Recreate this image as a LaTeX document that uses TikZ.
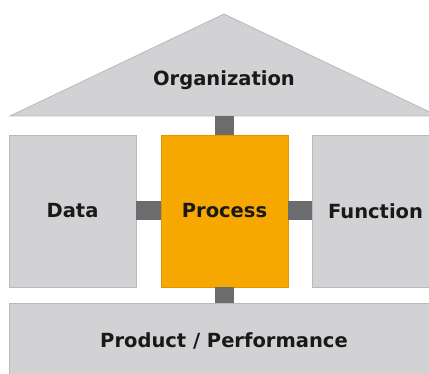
\documentclass[tikz,border=0pt]{standalone}
\usepackage{fontspec}
\setmainfont{DejaVu Sans}
\definecolor{boxgray}{RGB}{210,210,212}
\definecolor{boxline}{RGB}{185,185,188}
\definecolor{procorange}{RGB}{246,168,0}
\definecolor{procline}{RGB}{225,150,0}
\definecolor{conngray}{RGB}{108,108,110}
\begin{document}
\begin{tikzpicture}[x=1pt,y=-1pt,
  lbl/.style={font=\fontsize{19.5}{22}\selectfont\bfseries, text=black!90},
  graybox/.style={draw=boxline, fill=boxgray, line width=0.8pt, minimum width=127pt, minimum height=152pt, inner sep=0pt, lbl},
  procbox/.style={draw=procline, fill=procorange, line width=0.8pt, minimum width=127pt, minimum height=152pt, inner sep=0pt, lbl},
  conn/.style={draw=conngray, line width=19pt}
]
\clip (0,0) rectangle (429,374);
\fill[white] (0,0) rectangle (429,374);
% roof
\coordinate (apex) at (224,14);
\coordinate (bl) at (10,116);
\coordinate (br) at (438,116);
\coordinate (orgbase) at (224.5,116);
\draw[draw=boxline, fill=boxgray, line width=0.8pt] (apex) -- (br) -- (bl) -- cycle;
\node[lbl] (org) at (224,80) {Organization};
% boxes
\node[graybox] (data) at (72.5,211) {Data};
\node[procbox] (proc) at (224.5,211) {Process};
\node[graybox] (func) at (375.5,211) {Function};
\node[draw=boxline, fill=boxgray, line width=0.8pt, minimum width=430pt, minimum height=76pt, inner sep=0pt, lbl] (prod) at (224,341) {Product / Performance};
% connectors
\draw[conn] (orgbase) -- (proc.north);
\draw[conn] (data.east) -- (proc.west);
\draw[conn] (proc.east) -- (func.west);
\draw[conn] (proc.south) -- (proc.south |- prod.north);
\end{tikzpicture}
\end{document}
